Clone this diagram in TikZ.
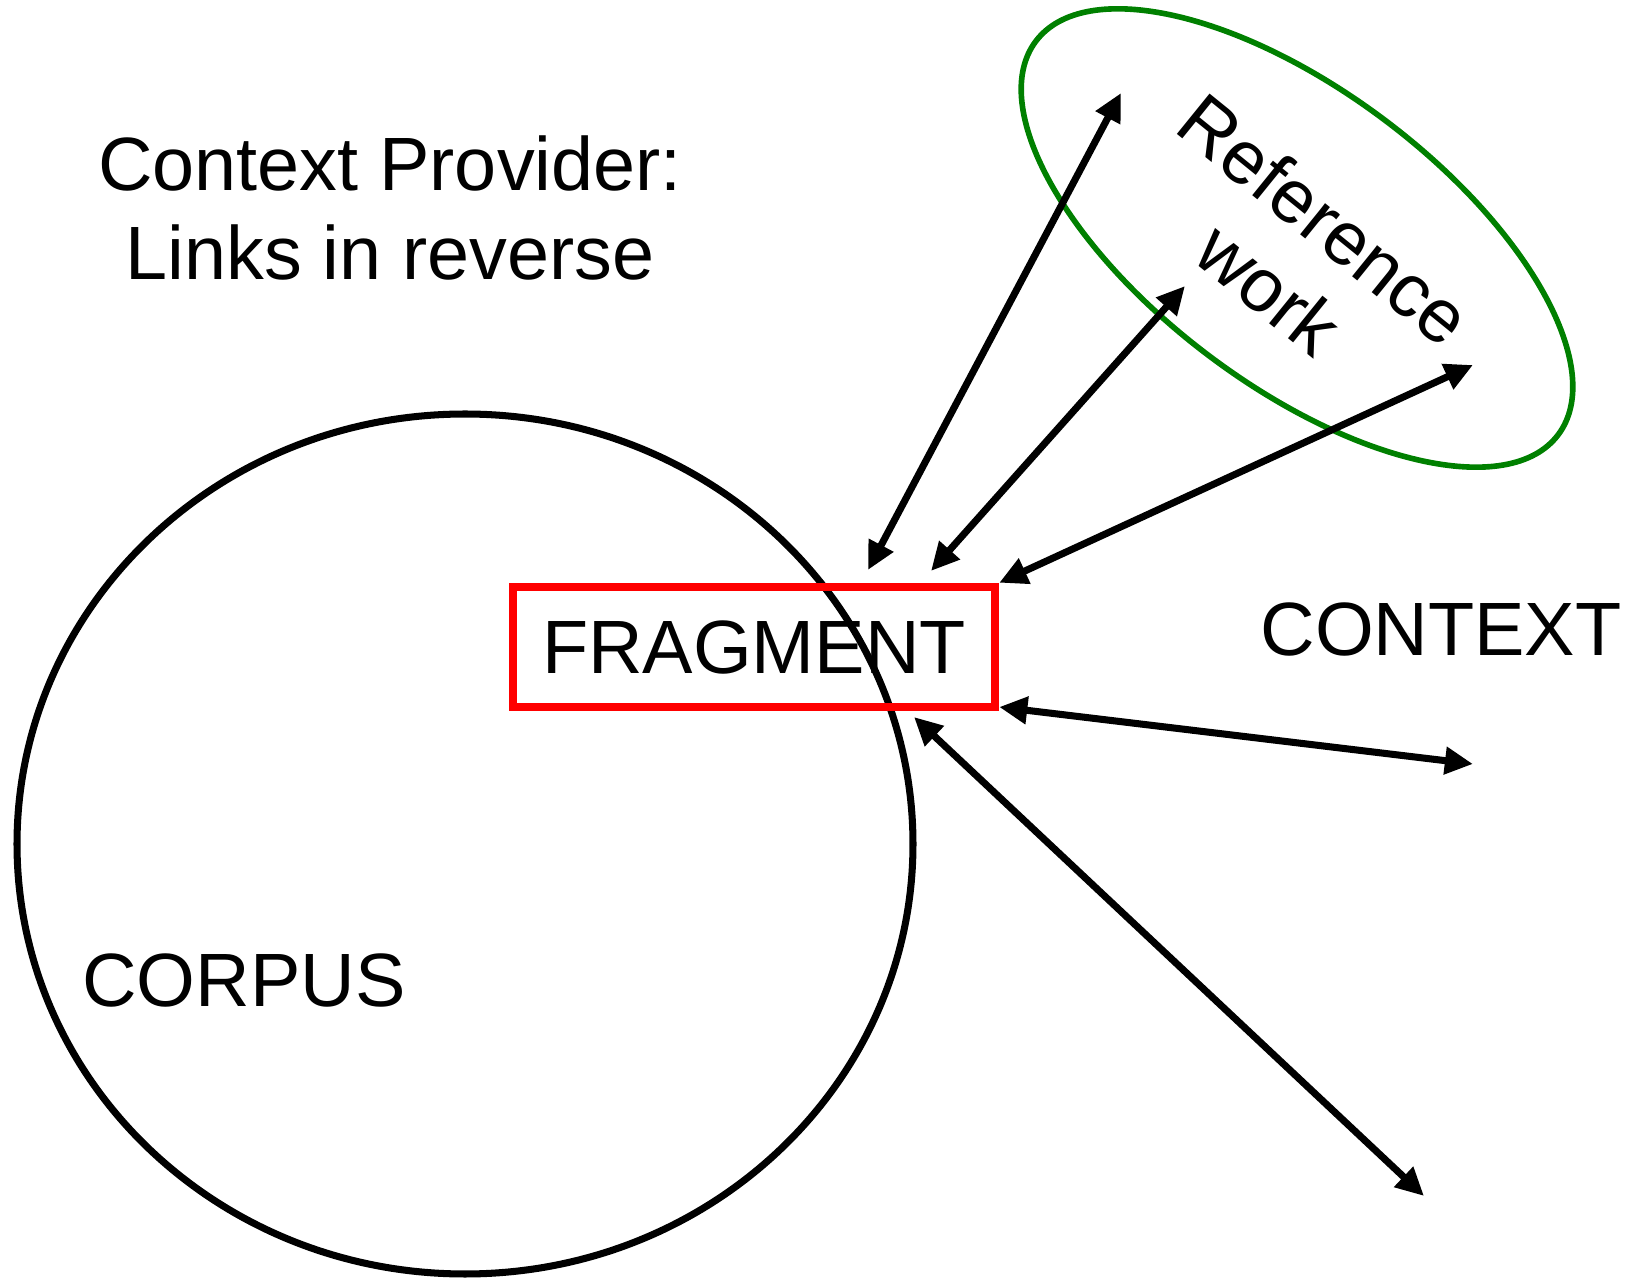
\documentclass[tikz,border=0pt]{standalone}
\usepackage{fontspec}
\setmainfont{Liberation Sans}
\usetikzlibrary{arrows.meta}
\usetikzlibrary{shapes.geometric}
\definecolor{refgreen}{RGB}{0,128,0}

\begin{document}
\begin{tikzpicture}[x=0.1mm,y=-0.1mm]
	\useasboundingbox (0,0) rectangle (1634,1278);

	\begin{scope}[every node/.style={font=\fontsize{21.5}{25.3}\selectfont, align=center}]
		\node[ellipse, draw, line width=2pt, inner sep=0pt,
		      minimum width=89.6mm, minimum height=86mm] (corpus) at (465,844) {};
		\node[ellipse, draw=refgreen, line width=1.6pt, inner sep=0pt, rotate=-37,
		      minimum width=65.4mm, minimum height=29.4mm] (ref) at (1297,238) {};
		\node[draw=red, line width=2.4pt, minimum width=48.2mm, minimum height=12mm] (frag) at (754,647) {FRAGMENT};
		\node (corpuslabel) at (244,980) {CORPUS};
		\node (contextlabel) at (1441,629) {CONTEXT};
		\node (title) at (390,208) {Context Provider:\\Links in reverse};
		\node[rotate=-39] (reflabel) at (1297,254) {Reference\\work};
	\end{scope}

	\coordinate (f1) at (868,570);
	\coordinate (f2) at (931,571);
	\coordinate (f4) at ([yshift=1.2pt]frag.south east);
	\coordinate (f5) at (914,717);
	\coordinate (r1) at (1121,93);
	\coordinate (r2) at (1185,286);
	\coordinate (r3) at (1473,365);
	\coordinate (c1) at (1473,764);
	\coordinate (c2) at (1424,1196);

	\begin{scope}[>={Triangle[length=8pt,width=7.5pt]},
	              every edge/.style={draw=black, <->, line width=2pt}]
		\path (f1) edge (r1);
		\path (f2) edge (r2);
		\path (frag.north east) edge (r3);
		\path (f4) edge (c1);
		\path (f5) edge (c2);
	\end{scope}
\end{tikzpicture}
\end{document}
